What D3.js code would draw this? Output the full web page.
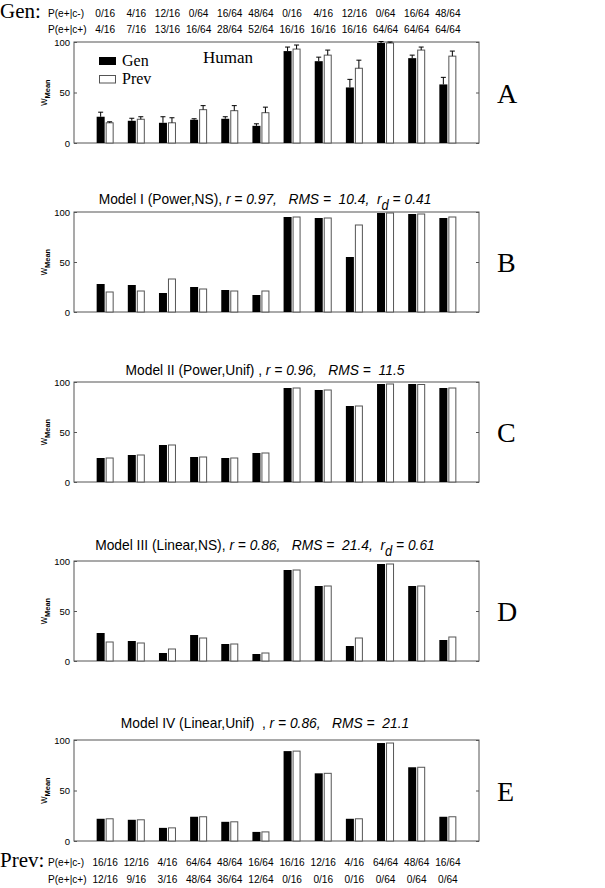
<!DOCTYPE html>
<html>
<head>
<meta charset="utf-8">
<script src="https://cdn.jsdelivr.net/npm/d3@7"></script>
<style>
  body { margin: 0; background: #fff; }
  text { font-family: "Liberation Sans", Arial, sans-serif; }
  .serif { font-family: "Liberation Serif", "Times New Roman", serif; }
</style>
</head>
<body>
<svg id="chart" width="605" height="888"></svg>
<script>
// column labels (conditions)
var genCminus = ["0/16","4/16","12/16","0/64","16/64","48/64","0/16","4/16","12/16","0/64","16/64","48/64"];
var genCplus  = ["4/16","7/16","13/16","16/64","28/64","52/64","16/16","16/16","16/16","64/64","64/64","64/64"];
var prevCminus = ["16/16","12/16","4/16","64/64","48/64","16/64","16/16","12/16","4/16","64/64","48/64","16/64"];
var prevCplus  = ["12/16","9/16","3/16","48/64","36/64","12/64","0/16","0/16","0/16","0/64","0/64","0/64"];
var yTicks = [0, 50, 100];

// human data (A) with upper error bars
var humanGen  = [26, 22, 20, 23, 24, 17, 91, 81, 55, 99, 84, 58];
var humanPrev = [20, 23.5, 20, 33, 32, 30, 93, 87, 74, 99, 92, 86];
var humanGenErr  = [4.5, 2.5, 6, 1, 2, 2, 4, 4, 8, 1.5, 3, 7];
var humanPrevErr = [1, 2.5, 5, 4, 5, 5.5, 4, 5, 8, 1, 3, 5];

// model predictions
var m1Gen  = [28, 27, 19, 25, 22, 17, 95, 94, 55, 99, 98, 94];
var m1Prev = [20, 21, 33, 23, 21, 21, 95, 94, 87, 99, 98, 95];
var m2Gen  = [24, 27, 37, 25, 24, 29, 94, 92, 76, 98, 98, 94];
var m2Prev = [24, 27, 37, 25, 24, 29, 94, 92, 76, 98, 97.5, 94];
var m3Gen  = [28, 20, 8, 26, 17, 7, 91, 75, 15, 97, 75, 21];
var m3Prev = [19, 18, 12, 23, 17, 8, 91, 75, 23, 97, 75, 24];
var m4Gen  = [22, 21, 13, 24, 19, 9, 89, 67, 22, 97, 73, 24];
var m4Prev = [22, 21, 13, 24, 19, 9, 89, 67, 22, 97, 73, 24];

var svg = d3.select("#chart");
var x = d3.scaleLinear().domain([0, 13]).range([74, 479]);
var bw = 8;

var panels = [
  {letter:"A", top:42,  bottom:143, gen:humanGen, prev:humanPrev, gErr:humanGenErr, pErr:humanPrevErr},
  {letter:"B", top:212, bottom:312, gen:m1Gen, prev:m1Prev, title:[["Model I (Power,NS), "],["r = 0.97,","i"],["   "],["RMS =  10.4,","i"],["  "],["r","i"],["d","sub"],[" = 0.41","i"]], ty:204},
  {letter:"C", top:382, bottom:482, gen:m2Gen, prev:m2Prev, title:[["Model II (Power,Unif) , "],["r = 0.96,","i"],["   "],["RMS =  11.5","i"]], ty:375},
  {letter:"D", top:561, bottom:661, gen:m3Gen, prev:m3Prev, title:[["Model III (Linear,NS), "],["r = 0.86,","i"],["   "],["RMS =  21.4,","i"],["  "],["r","i"],["d","sub"],[" = 0.61","i"]], ty:550},
  {letter:"E", top:740, bottom:841, gen:m4Gen, prev:m4Prev, title:[["Model IV (Linear,Unif)  , "],["r = 0.86,","i"],["   "],["RMS =  21.1","i"]], ty:728}
];

panels.forEach(function(p){
  var y = d3.scaleLinear().domain([0, 100]).range([p.bottom, p.top]);
  var g = svg.append("g");

  // frame
  g.append("rect").attr("x", x(0)).attr("y", p.top)
    .attr("width", x(13) - x(0)).attr("height", p.bottom - p.top)
    .attr("fill", "none").attr("stroke", "#555").attr("stroke-width", 1);

  var la = g.append("g").attr("transform", "translate(" + x(0) + ",0)")
    .call(d3.axisLeft(y).tickValues(yTicks).tickSize(-3).tickPadding(4));
  var ra = g.append("g").attr("transform", "translate(" + x(13) + ",0)")
    .call(d3.axisRight(y).tickValues(yTicks).tickSize(-3).tickFormat(""));
  [la, ra].forEach(function(a){
    a.select(".domain").remove();
    a.selectAll("line").attr("stroke", "#555");
    a.selectAll("text").attr("font-size", 9.5).attr("fill", "#000")
      .attr("font-family", "'Liberation Sans', Arial, sans-serif");
  });

  // y label
  var yl = g.append("text")
    .attr("transform", "translate(47," + ((p.top + p.bottom) / 2) + ") rotate(-90)")
    .attr("text-anchor", "middle").attr("font-size", 10);
  yl.append("tspan").text("w");
  yl.append("tspan").attr("dy", 3).attr("font-size", 7.5).attr("font-weight", "bold").text("Mean");

  // bars
  g.selectAll(".gen").data(p.gen).enter().append("rect")
    .attr("x", function(d, i){ return x(i + 1) - bw - 0.5; })
    .attr("y", function(d){ return y(d); })
    .attr("width", bw).attr("height", function(d){ return y(0) - y(d); })
    .attr("fill", "#000");
  g.selectAll(".prev").data(p.prev).enter().append("rect")
    .attr("x", function(d, i){ return x(i + 1) + 1; })
    .attr("y", function(d){ return y(d); })
    .attr("width", bw - 1).attr("height", function(d){ return y(0) - y(d); })
    .attr("fill", "#fff").attr("stroke", "#555").attr("stroke-width", 1);

  // error bars
  if (p.gErr) {
    var errs = [];
    p.gen.forEach(function(v, i){ errs.push({cx: x(i + 1) - bw / 2 - 0.5, v: v, e: p.gErr[i]}); });
    p.prev.forEach(function(v, i){ errs.push({cx: x(i + 1) + bw / 2 + 0.5, v: v, e: p.pErr[i]}); });
    var eb = g.selectAll(".err").data(errs).enter().append("g");
    eb.append("line")
      .attr("x1", function(d){ return d.cx; }).attr("x2", function(d){ return d.cx; })
      .attr("y1", function(d){ return y(d.v); }).attr("y2", function(d){ return y(d.v + d.e); })
      .attr("stroke", "#000");
    eb.append("line")
      .attr("x1", function(d){ return d.cx - 2.5; }).attr("x2", function(d){ return d.cx + 2.5; })
      .attr("y1", function(d){ return y(d.v + d.e); }).attr("y2", function(d){ return y(d.v + d.e); })
      .attr("stroke", "#000");
  }

  // title (slightly condensed like the original)
  if (p.title) {
    var t = g.append("text")
      .attr("transform", "translate(265," + p.ty + ") scale(0.92,1)")
      .attr("text-anchor", "middle").attr("font-size", 15).style("white-space", "pre");
    p.title.forEach(function(s){
      var ts = t.append("tspan").text(s[0]);
      if (s[1] === "i") ts.attr("font-style", "italic");
      if (s[1] === "sub") { ts.attr("font-style", "italic").attr("dy", 6).attr("font-size", 14); }
      else if (s[1] === "i" && s[0].indexOf(" = ") === 0) ts.attr("dy", -6);
    });
  }

  // panel letter
  g.append("text").attr("class", "serif").attr("x", 497).attr("y", (p.top + p.bottom) / 2 + 10)
    .attr("font-size", 28).text(p.letter);
});

// legend + Human label in panel A
svg.append("text").attr("class", "serif").attr("x", 203).attr("y", 63).attr("font-size", 17).text("Human");
svg.append("rect").attr("x", 99).attr("y", 57).attr("width", 17).attr("height", 8).attr("fill", "#000");
svg.append("text").attr("class", "serif").attr("x", 122).attr("y", 66).attr("font-size", 16).text("Gen");
svg.append("rect").attr("x", 99.5).attr("y", 75.5).attr("width", 16).attr("height", 7.5)
  .attr("fill", "#fff").attr("stroke", "#555");
svg.append("text").attr("class", "serif").attr("x", 122).attr("y", 84).attr("font-size", 16).text("Prev");

// condition labels
function labelRows(title, rows, baseY){
  svg.append("text").attr("class", "serif").attr("x", 0).attr("y", baseY[0] + 1)
    .attr("font-size", 21).text(title);
  rows.forEach(function(r, k){
    svg.append("text").attr("transform", "translate(48," + baseY[k] + ") scale(0.88,1)")
      .attr("font-size", 11.5).text(r.name);
    svg.selectAll(null).data(r.vals).enter().append("text")
      .attr("transform", function(d, i){ return "translate(" + x(i + 1) + "," + baseY[k] + ") scale(0.88,1)"; })
      .attr("text-anchor", "middle").attr("font-size", 11.5).text(function(d){ return d; });
  });
}
labelRows("Gen:", [{name:"P(e+|c-)", vals:genCminus}, {name:"P(e+|c+)", vals:genCplus}], [17, 33]);
labelRows("Prev:", [{name:"P(e+|c-)", vals:prevCminus}, {name:"P(e+|c+)", vals:prevCplus}], [866, 883]);
</script>
</body>
</html>
